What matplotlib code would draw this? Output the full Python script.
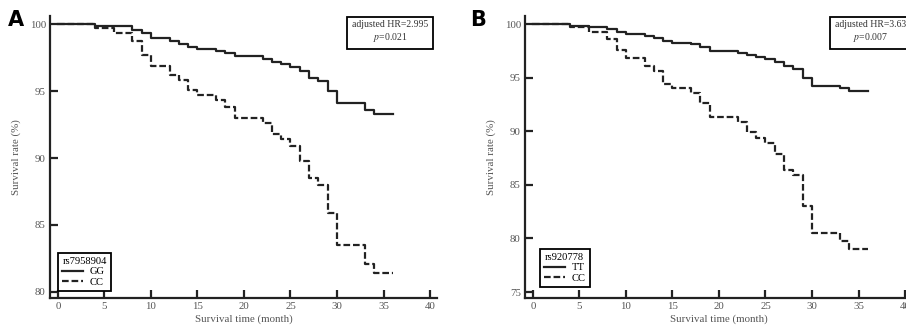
#!/usr/bin/env python3

"""Kaplan-Meier style survival curves for two SNPs (panels A and B)."""

import matplotlib
matplotlib.use("Agg")
import matplotlib.pyplot as plt

# panel A: rs7958904
a_gg_t = [0, 4, 8, 9, 10, 12, 13, 14, 15, 17, 18, 19, 22, 23, 24, 25, 26, 27, 28, 29, 30, 33, 34, 36]
a_gg_v = [100, 99.85, 99.55, 99.3, 98.96, 98.74, 98.48, 98.28, 98.13, 97.98, 97.83, 97.6,
          97.4, 97.15, 97.0, 96.8, 96.5, 96.0, 95.76, 95.0, 94.1, 93.6, 93.3, 93.3]
a_cc_t = [0, 4, 6, 8, 9, 10, 12, 13, 14, 15, 17, 18, 19, 22, 23, 24, 25, 26, 27, 28, 29, 30, 33, 34, 36]
a_cc_v = [100, 99.7, 99.3, 98.7, 97.7, 96.9, 96.2, 95.8, 95.1, 94.7, 94.3, 93.8, 93.0,
          92.6, 91.8, 91.4, 90.9, 89.8, 88.5, 88.0, 85.9, 83.5, 82.1, 81.4, 81.4]

# panel B: rs920778
b_tt_t = [0, 4, 6, 8, 9, 10, 12, 13, 14, 15, 17, 18, 19, 22, 23, 24, 25, 26, 27, 28, 29, 30, 33, 34, 36]
b_tt_v = [100, 99.8, 99.7, 99.5, 99.3, 99.1, 98.9, 98.7, 98.4, 98.25, 98.1, 97.9, 97.5,
          97.3, 97.1, 96.9, 96.7, 96.5, 96.1, 95.8, 95.0, 94.2, 94.0, 93.75, 93.75]
b_cc_t = [0, 4, 6, 8, 9, 10, 12, 13, 14, 15, 17, 18, 19, 22, 23, 24, 25, 26, 27, 28, 29, 30, 33, 34, 36]
b_cc_v = [100, 99.7, 99.3, 98.6, 97.6, 96.8, 96.1, 95.6, 94.4, 94.0, 93.6, 92.6, 91.3,
          90.85, 89.9, 89.4, 88.9, 87.9, 86.4, 85.9, 83.0, 80.5, 79.8, 79.0, 79.0]

x_ticks = [0, 5, 10, 15, 20, 25, 30, 35, 40]
a_yticks = [80, 85, 90, 95, 100]
b_yticks = [75, 80, 85, 90, 95, 100]

plt.rcParams["font.family"] = ["Liberation Serif", "DejaVu Serif"]
plt.rcParams["mathtext.fontset"] = "stix"

line_col = "#222222"
text_col = "#555555"

fig = plt.figure(figsize=(9.06, 3.29), dpi=100)
W, H = 906.0, 329.0


def make_axes(left_px, ylim, yticks):
    ax = fig.add_axes([left_px / W, 1 - 298 / H, 387 / W, 282 / H])
    ax.set_xlim(-0.85, 40.75)
    ax.set_ylim(*ylim)
    ax.set_xticks(x_ticks)
    ax.set_yticks(yticks)
    for s in ["top", "right"]:
        ax.spines[s].set_visible(False)
    for s in ["left", "bottom"]:
        ax.spines[s].set_linewidth(1.6)
        ax.spines[s].set_color(line_col)
    ax.tick_params(direction="in", length=6, width=1.6, color=line_col,
                   labelsize=7.8, labelcolor=text_col, pad=3)
    ax.set_xlabel("Survival time (month)", fontsize=7.8, color=text_col, labelpad=2)
    ax.set_ylabel("Survival rate (%)", fontsize=7.8, color=text_col, labelpad=6)
    return ax


def draw_curves(ax, t1, v1, t2, v2, snp, g1, g2):
    ax.step(t1, v1, where="post", color=line_col, lw=1.6, label=g1)
    ax.step(t2, v2, where="post", color=line_col, lw=1.6, linestyle=(0, (3, 1.3)), label=g2)
    return ax.legend(title=snp, fontsize=7.6, title_fontsize=7.6, handlelength=2.0,
                     alignment="left", fancybox=False, edgecolor="black",
                     framealpha=1, borderpad=0.4, labelspacing=0.1,
                     handletextpad=0.6, borderaxespad=0, loc="lower left")


# panel A
axA = make_axes(50, (79.55, 100.6), a_yticks)
leg = draw_curves(axA, a_gg_t, a_gg_v, a_cc_t, a_cc_v, "rs7958904", "GG", "CC")
leg.set_bbox_to_anchor((0.021, 0.025), transform=axA.transAxes)
leg.get_frame().set_linewidth(1.3)
axA.text(0.879, 0.943, "adjusted HR=2.995\n$p$=0.021", transform=axA.transAxes,
         ha="center", va="center", multialignment="center", fontsize=7, color="#333333",
         bbox=dict(boxstyle="square,pad=0.5", fc="white", ec="black", lw=1.3))

# panel B
axB = make_axes(525, (74.45, 100.75), b_yticks)
leg = draw_curves(axB, b_tt_t, b_tt_v, b_cc_t, b_cc_v, "rs920778", "TT", "CC")
leg.set_bbox_to_anchor((0.039, 0.039), transform=axB.transAxes)
leg.get_frame().set_linewidth(1.3)
axB.text(0.80, 0.943, "adjusted HR=3.63\n$p$=0.007", transform=axB.transAxes,
         ha="left", va="center", multialignment="center", fontsize=7, color="#333333",
         bbox=dict(boxstyle="square,pad=0.5", fc="white", ec="black", lw=1.3))

fig.text(16 / W, 1 - 20 / H, "A", fontsize=15, fontweight="bold", family="DejaVu Sans",
         ha="center", va="center")
fig.text(478 / W, 1 - 20 / H, "B", fontsize=15, fontweight="bold", family="DejaVu Sans",
         ha="center", va="center")

fig.savefig("out.png", dpi=100)
